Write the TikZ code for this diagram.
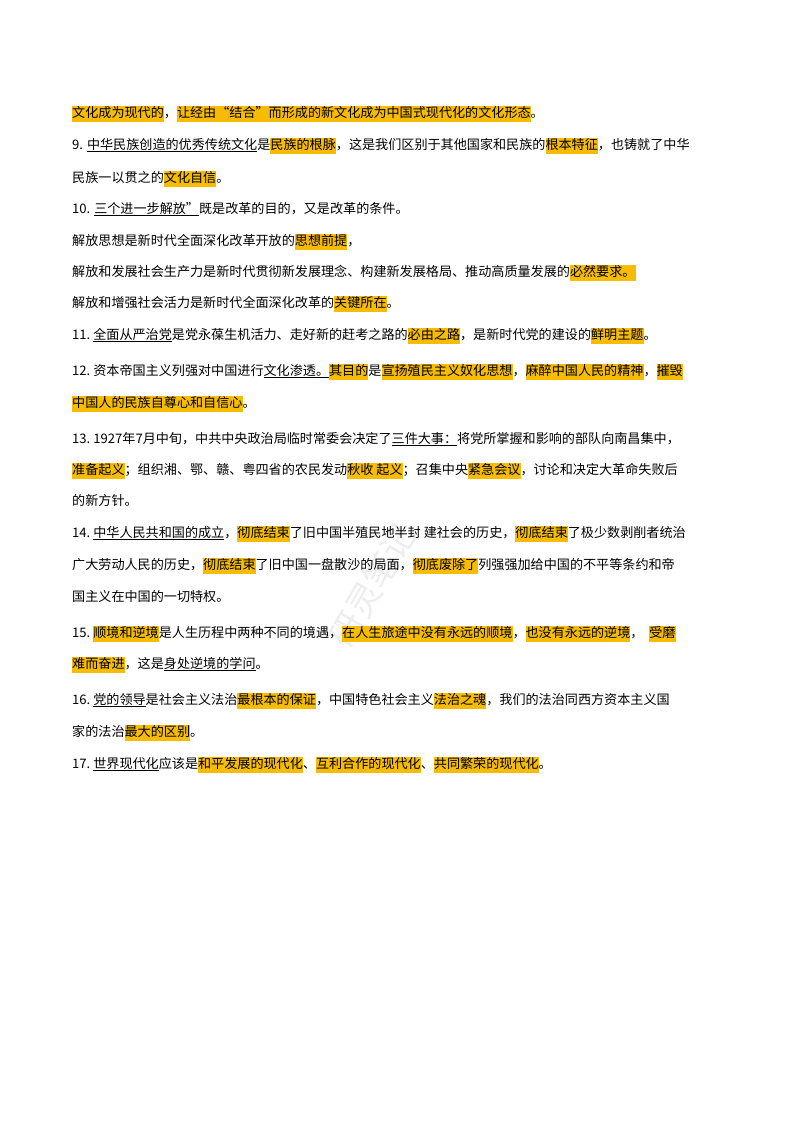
\documentclass[tikz,border=0pt]{standalone}
\usepackage{fontspec}
\setmainfont{Noto Sans CJK SC}
\definecolor{hl}{RGB}{247,188,0}
\newcommand\hl[1]{\begingroup\fboxsep=0pt\colorbox{hl}{\vphantom{国}\strut#1}\endgroup}
\newcommand\ul[1]{\underline{#1}}
\begin{document}
\begin{tikzpicture}[x=1pt,y=-1pt,
  ln/.style={anchor=base west,inner sep=0pt,font=\fontsize{13.1}{16}\selectfont}]
\useasboundingbox[fill=white] (0,0) rectangle (800,1132);
\node[text=black!7,rotate=60,font=\fontsize{34}{34}\selectfont] (wm) at (372,585) {研灵笔记};
\node[ln] (l1) at (72,117) {\hl{文化成为现代的}，\hl{让经由“结合”而形成的新文化成为中国式现代化的文化形态}。};
\node[ln] (l2) at (72,149) {9. \ul{中华民族创造的优秀传统文化}是\hl{民族的根脉}，这是我们区别于其他国家和民族的\hl{根本特征}，也铸就了中华};
\node[ln] (l3) at (72,182) {民族一以贯之的\hl{文化自信}。};
\node[ln] (l4) at (72,213) {10. \ul{三个进一步解放”}既是改革的目的，又是改革的条件。};
\node[ln] (l5) at (72,245) {解放思想是新时代全面深化改革开放的\hl{思想前提}，};
\node[ln] (l6) at (72,276) {解放和发展社会生产力是新时代贯彻新发展理念、构建新发展格局、推动高质量发展的\hl{必然要求。}};
\node[ln] (l7) at (72,307) {解放和增强社会活力是新时代全面深化改革的\hl{关键所在}。};
\node[ln] (l8) at (72,339) {11.\ \ul{全面从严治党}是党永葆生机活力、走好新的赶考之路的\hl{必由之路}，是新时代党的建设的\hl{鲜明主题}。};
\node[ln] (l9) at (72,375) {12.\ 资本帝国主义列强对中国进行\ul{文化渗透。}\hl{其目的}是\hl{宣扬殖民主义奴化思想}，\hl{麻醉中国人民的精神}，\hl{摧毁}};
\node[ln] (l10) at (72,407) {\hl{中国人的民族自尊心和自信心}。};
\node[ln] (l11) at (72,443) {13.\ 1927年7月中旬，中共中央政治局临时常委会决定了\ul{三件大事：}将党所掌握和影响的部队向南昌集中，};
\node[ln] (l12) at (72,474) {\hl{准备起义}；组织湘、鄂、赣、粤四省的农民发动\hl{秋收\ 起义}；召集中央\hl{紧急会议}，讨论和决定大革命失败后};
\node[ln] (l13) at (72,505) {的新方针。};
\node[ln] (l14) at (72,537) {14.\ \ul{中华人民共和国的成立}，\hl{彻底结束}了旧中国半殖民地半封\ 建社会的历史，\hl{彻底结束}了极少数剥削者统治};
\node[ln] (l15) at (72,569) {广大劳动人民的历史，\hl{彻底结束}了旧中国一盘散沙的局面，\hl{彻底废除了}列强强加给中国的不平等条约和帝};
\node[ln] (l16) at (72,601) {国主义在中国的一切特权。};
\node[ln] (l17) at (72,637) {15.\ \hl{顺境和逆境}是人生历程中两种不同的境遇，\hl{在人生旅途中没有永远的顺境}，\hl{也没有永远的逆境}，\ \ \hl{受磨}};
\node[ln] (l18) at (72,668) {\hl{难而奋进}，这是\ul{身处逆境的学问}。};
\node[ln] (l19) at (72,704) {16.\ \ul{党的领导}是社会主义法治\hl{最根本的保证}，中国特色社会主义\hl{法治之魂}，我们的法治同西方资本主义国};
\node[ln] (l20) at (72,736) {家的法治\hl{最大的区别}。};
\node[ln] (l21) at (72,768) {17.\ \ul{世界现代化}应该是\hl{和平发展的现代化}、\hl{互利合作的现代化}、\hl{共同繁荣的现代化}。};
\end{tikzpicture}
\end{document}
